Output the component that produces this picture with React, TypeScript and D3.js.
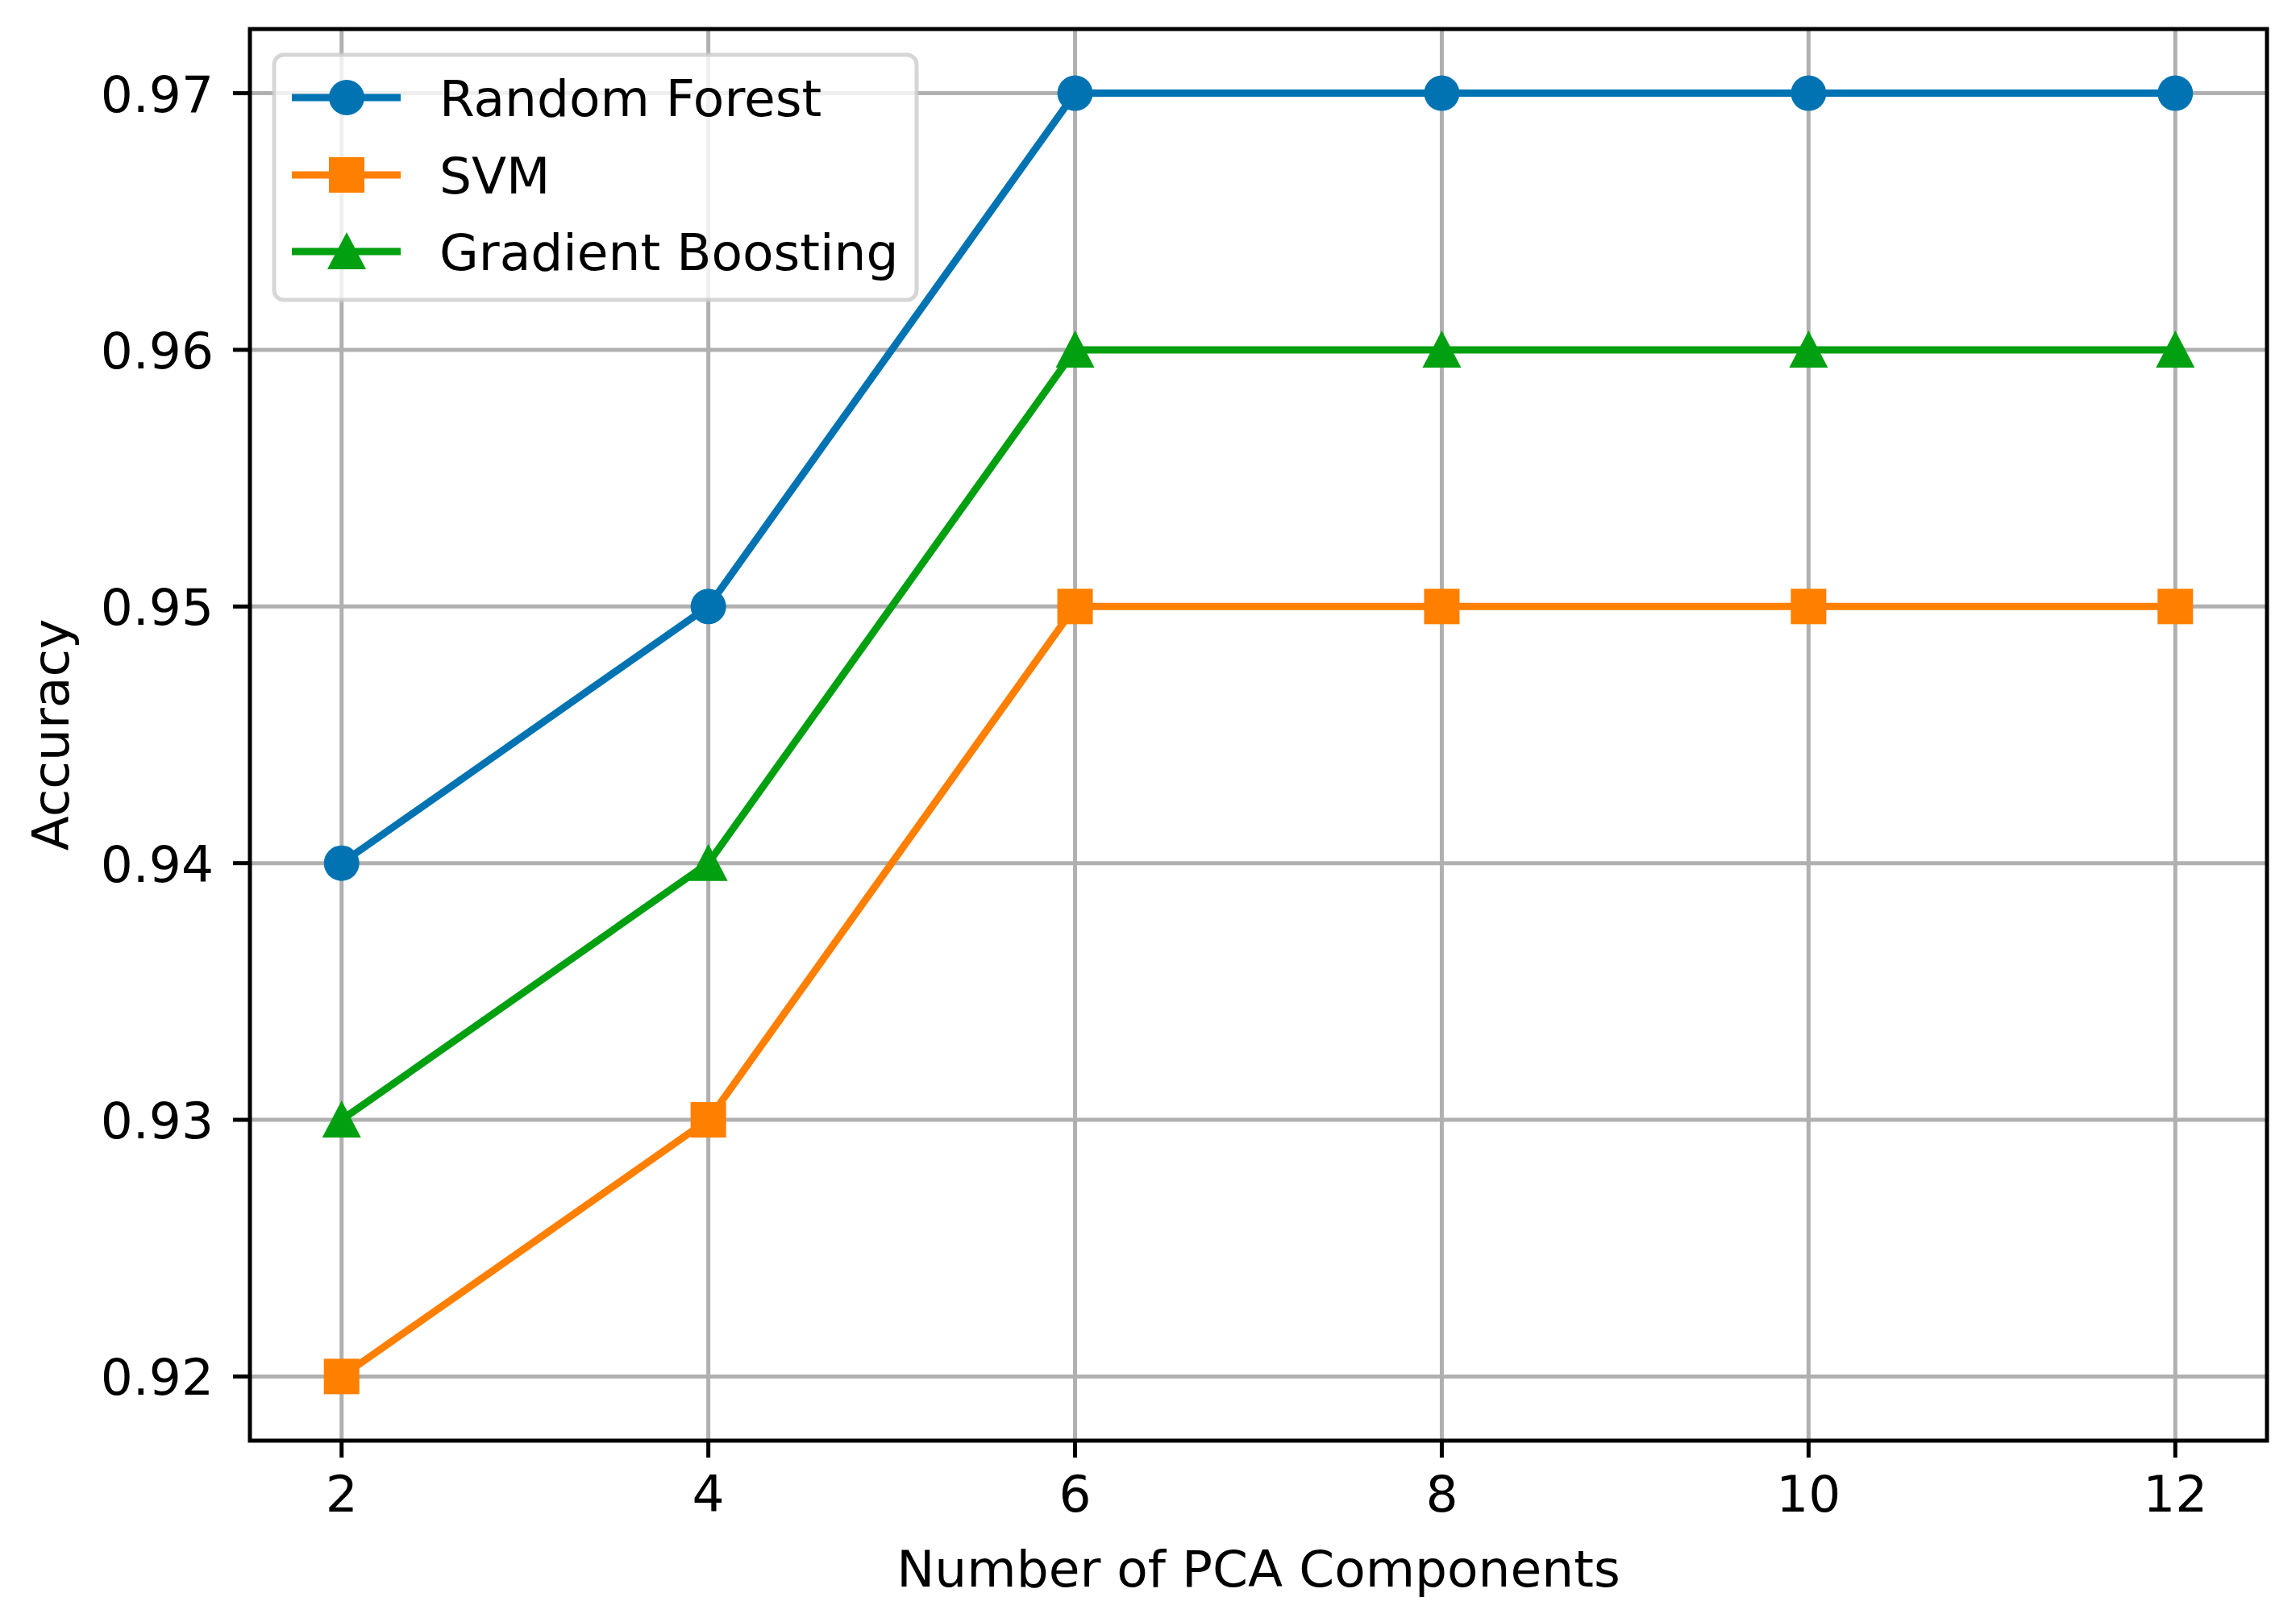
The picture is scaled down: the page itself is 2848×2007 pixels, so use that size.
import * as d3 from 'd3';

// chart data
const components = [2, 4, 6, 8, 10, 12];
const randomForest = [0.94, 0.95, 0.97, 0.97, 0.97, 0.97];
const svm = [0.92, 0.93, 0.95, 0.95, 0.95, 0.95];
const gradientBoosting = [0.93, 0.94, 0.96, 0.96, 0.96, 0.96];
const seriesNames = ['Random Forest', 'SVM', 'Gradient Boosting'];
const xTicks = [2, 4, 6, 8, 10, 12];
const yTicks = [0.92, 0.93, 0.94, 0.95, 0.96, 0.97];

const W = 2848;
const H = 2007;
const FONT = 'DejaVu Sans, sans-serif';
const FS = 63;

const plot = { left: 310, right: 2812, top: 36, bottom: 1787 };

const x = d3.scaleLinear().domain([1.5, 12.5]).range([plot.left, plot.right]);
const y = d3.scaleLinear().domain([0.9175, 0.9725]).range([plot.bottom, plot.top]);

type Marker = 'circle' | 'square' | 'triangle';

const series: { name: string; values: number[]; color: string; marker: Marker }[] = [
  { name: seriesNames[0], values: randomForest, color: '#0173b2', marker: 'circle' },
  { name: seriesNames[1], values: svm, color: '#ff7f00', marker: 'square' },
  { name: seriesNames[2], values: gradientBoosting, color: '#00a010', marker: 'triangle' },
];

const MS = 22; // marker half size

function MarkerShape({ kind, cx, cy, color }: { kind: Marker; cx: number; cy: number; color: string }) {
  if (kind === 'circle') return <circle cx={cx} cy={cy} r={MS} fill={color} />;
  if (kind === 'square')
    return <rect x={cx - MS} y={cy - MS} width={MS * 2} height={MS * 2} fill={color} />;
  const tri = d3.path();
  tri.moveTo(cx, cy - MS - 2);
  tri.lineTo(cx + MS + 2, cy + MS);
  tri.lineTo(cx - MS - 2, cy + MS);
  tri.closePath();
  return <path d={tri.toString()} fill={color} />;
}

export default function App() {
  const line = d3
    .line<number>()
    .x((_, i) => x(components[i]))
    .y(d => y(d));

  const legend = { x: 340, y: 68, w: 797, h: 304 };
  const rowY = [121, 217, 312];

  return (
    <svg
      width={W}
      height={H}
      viewBox={`0 0 ${W} ${H}`}
      style={{ position: 'absolute', left: 0, top: 0, background: '#fff' }}
      fontFamily={FONT}
    >
      <rect width={W} height={H} fill="#fff" />

      {/* grid */}
      <g stroke="#b0b0b0" strokeWidth={5}>
        {xTicks.map(t => (
          <line key={`gx${t}`} x1={x(t)} x2={x(t)} y1={plot.top} y2={plot.bottom} />
        ))}
        {yTicks.map(t => (
          <line key={`gy${t}`} x1={plot.left} x2={plot.right} y1={y(t)} y2={y(t)} />
        ))}
      </g>

      {/* series */}
      {series.map(s => (
        <g key={s.name}>
          <path d={line(s.values) ?? ''} fill="none" stroke={s.color} strokeWidth={9} strokeLinejoin="round" />
          {s.values.map((v, i) => (
            <MarkerShape key={i} kind={s.marker} cx={x(components[i])} cy={y(v)} color={s.color} />
          ))}
        </g>
      ))}

      {/* spines */}
      <rect
        x={plot.left}
        y={plot.top}
        width={plot.right - plot.left}
        height={plot.bottom - plot.top}
        fill="none"
        stroke="#000"
        strokeWidth={5}
      />

      {/* x ticks */}
      {xTicks.map(t => (
        <g key={`xt${t}`}>
          <line x1={x(t)} x2={x(t)} y1={plot.bottom} y2={plot.bottom + 21} stroke="#000" strokeWidth={5} />
          <text x={x(t)} y={1875} fontSize={FS} textAnchor="middle" fill="#000">
            {t}
          </text>
        </g>
      ))}

      {/* y ticks */}
      {yTicks.map(t => (
        <g key={`yt${t}`}>
          <line x1={plot.left - 21} x2={plot.left} y1={y(t)} y2={y(t)} stroke="#000" strokeWidth={5} />
          <text x={265} y={y(t) + 23} fontSize={FS} textAnchor="end" fill="#000">
            {d3.format('.2f')(t)}
          </text>
        </g>
      ))}

      {/* axis labels */}
      <text x={(plot.left + plot.right) / 2} y={1968} fontSize={FS} textAnchor="middle" fill="#000">
        Number of PCA Components
      </text>
      <text
        transform={`translate(85,${(plot.top + plot.bottom) / 2}) rotate(-90)`}
        fontSize={FS}
        textAnchor="middle"
        fill="#000"
      >
        Accuracy
      </text>

      {/* legend */}
      <g>
        <rect
          x={legend.x}
          y={legend.y}
          width={legend.w}
          height={legend.h}
          rx={12}
          fill="#fff"
          fillOpacity={0.8}
          stroke="#cccccc"
          strokeOpacity={0.8}
          strokeWidth={5}
        />
        {series.map((s, i) => (
          <g key={`lg${s.name}`}>
            <line x1={362} x2={497} y1={rowY[i]} y2={rowY[i]} stroke={s.color} strokeWidth={9} />
            <MarkerShape kind={s.marker} cx={430} cy={rowY[i]} color={s.color} />
            <text x={545} y={rowY[i] + 23} fontSize={FS} fill="#000">
              {s.name}
            </text>
          </g>
        ))}
      </g>
    </svg>
  );
}
